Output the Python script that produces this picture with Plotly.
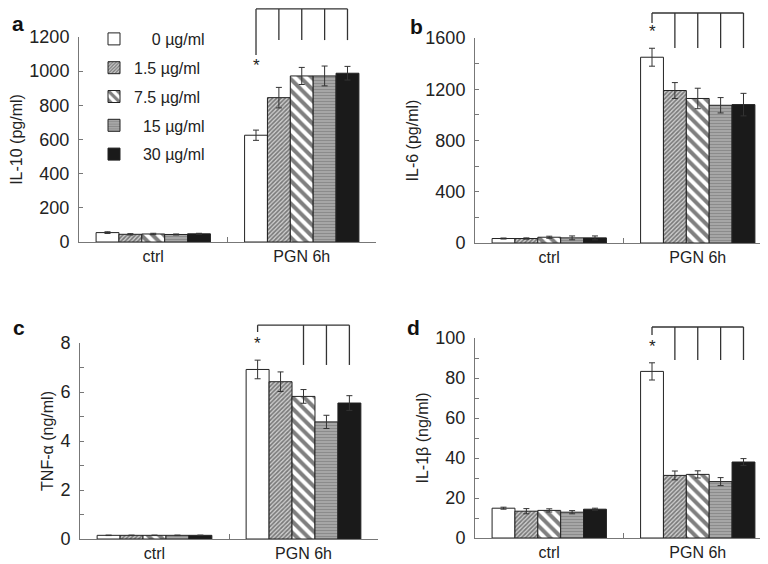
import plotly.graph_objects as go

categories = ["ctrl", "PGN 6h"]
doses = ["0 µg/ml", "1.5 µg/ml", "7.5 µg/ml", "15 µg/ml", "30 µg/ml"]
legend_names = ["\u2007\u2008 0 µg/ml", "1.5 µg/ml", "7.5 µg/ml", "\u2008 15 µg/ml", "\u2008 30 µg/ml"]

# IL-10 (pg/ml): [ctrl, PGN] per dose
il10_vals = [[55, 625], [45, 845], [47, 972], [44, 972], [48, 988]]
il10_err = [[5, 30], [4, 60], [4, 50], [3, 58], [3, 40]]
# IL-6 (pg/ml)
il6_vals = [[35, 1450], [35, 1190], [45, 1128], [40, 1075], [40, 1080]]
il6_err = [[4, 70], [5, 62], [8, 80], [15, 60], [15, 88]]
# TNF-a (ng/ml)
tnf_vals = [[0.15, 6.92], [0.15, 6.42], [0.15, 5.82], [0.15, 4.78], [0.15, 5.55]]
tnf_err = [[0.01, 0.38], [0.01, 0.4], [0.01, 0.28], [0.01, 0.27], [0.01, 0.3]]
# IL-1b (ng/ml)
il1b_vals = [[14.9, 83.3], [13.4, 31.3], [13.8, 31.8], [12.9, 28.2], [14.4, 38.0]]
il1b_err = [[0.5, 4.3], [1.3, 2.2], [0.8, 1.8], [0.8, 2.0], [0.5, 1.7]]

# which PGN bars are linked to the 0 µg/ml bar by the significance bracket
bracket_a = [1, 2, 3, 4]
bracket_b = [1, 2, 3, 4]
bracket_c = [2, 3, 4]
bracket_d = [1, 2, 3, 4]

W, H = 768, 564
FONT = "Liberation Sans, Arial, sans-serif"
INK = "#222222"
AX = "#777777"

styles = [
    dict(color="white"),
    dict(color="white", pattern=dict(shape="/", size=3, solidity=0.55, fgcolor="#222222", bgcolor="#d0d0d0")),
    dict(color="white", pattern=dict(shape="\\", size=8, solidity=0.5, fgcolor="#000000", bgcolor="white")),
    dict(color="#a0a0a0", pattern=dict(shape="-", size=3, solidity=0.35, fgcolor="#707070", bgcolor="#a6a6a6")),
    dict(color="#1a1a1a"),
]


def px_dom_x(x0, x1):
    return [x0 / W, x1 / W]


def px_dom_y(top, bottom):
    return [(H - bottom) / H, (H - top) / H]


panels = [
    dict(vals=il10_vals, err=il10_err, title="IL-10 (pg/ml)", rng=[0, 1200], dtick=200, minor=None,
         dx=px_dom_x(71, 368), dy=px_dom_y(29, 234), letter="a", lx=2, ly=2,
         bars=bracket_a, btop=1.137, bleft=0.912, bstar=0.86, bdrop=0.985),
    dict(vals=il6_vals, err=il6_err, title="IL-6 (pg/ml)", rng=[0, 1600], dtick=400, minor=200,
         dx=px_dom_x(467, 764), dy=px_dom_y(30, 235), letter="b", lx=400, ly=5,
         bars=bracket_b, btop=1.122, bleft=1.073, bstar=1.03, bdrop=0.951),
    dict(vals=tnf_vals, err=tnf_err, title="TNF-α (ng/ml)", rng=[0, 8], dtick=2, minor=1,
         dx=px_dom_x(72, 370), dy=px_dom_y(335, 531), letter="c", lx=3, ly=306,
         bars=bracket_c, btop=1.091, bleft=1.056, bstar=0.995, bdrop=0.888),
    dict(vals=il1b_vals, err=il1b_err, title="IL-1β (ng/ml)", rng=[0, 100], dtick=20, minor=10,
         dx=px_dom_x(467, 764), dy=px_dom_y(330, 530), letter="d", lx=397, ly=306,
         bars=bracket_d, btop=1.055, bleft=1.015, bstar=0.96, bdrop=0.89),
]

BARGAP = 0.23
n = len(doses)
bw = (1 - BARGAP) / n
offsets = [(-(n - 1) / 2 + i) * bw for i in range(n)]

fig = go.Figure()
shapes = []
annotations = []

for p_i, p in enumerate(panels):
    sfx = "" if p_i == 0 else str(p_i + 1)
    xa, ya = "x" + sfx, "y" + sfx
    for d_i in range(n):
        fig.add_trace(go.Bar(
            x=categories, y=p["vals"][d_i],
            name=legend_names[d_i], legendgroup=doses[d_i], showlegend=(p_i == 0),
            marker=dict(**styles[d_i], line=dict(color=INK, width=1)),
            error_y=dict(type="data", array=p["err"][d_i], visible=True,
                         color="#333333", thickness=1, width=3),
            xaxis=xa, yaxis=ya,
        ))
    lay_x = "xaxis" + sfx
    lay_y = "yaxis" + sfx
    fig.layout[lay_x] = dict(
        domain=p["dx"], anchor=ya, type="category", range=[-0.5, 1.5],
        showline=True, linecolor=AX, linewidth=1, ticks="inside", tickson="boundaries",
        ticklen=5, tickcolor=AX, tickfont=dict(size=16, color=INK, family=FONT),
        ticklabelstandoff=0, showgrid=False, zeroline=False,
    )
    ydict = dict(
        domain=p["dy"], anchor=xa, range=p["rng"], dtick=p["dtick"], tick0=0,
        showline=True, linecolor=AX, linewidth=1, ticks="inside", ticklen=4, tickcolor=AX,
        tickfont=dict(size=18, color=INK, family=FONT), ticklabelstandoff=5,
        showgrid=False, zeroline=False,
        title=dict(text=p["title"], font=dict(size=16, color=INK, family=FONT), standoff=2),
    )
    if p["minor"]:
        ydict["minor"] = dict(dtick=p["minor"], ticks="inside", ticklen=4, tickcolor=AX, showgrid=False)
    fig.layout[lay_y] = ydict

    # significance bracket over PGN group
    base = 1
    x_first = base + offsets[0]
    x_last = base + offsets[p["bars"][-1]]
    yref = ya + " domain"
    line = dict(color="#333333", width=1.3)
    shapes.append(dict(type="line", xref=xa, yref=yref, x0=x_first, x1=x_last,
                       y0=p["btop"], y1=p["btop"], line=line))
    shapes.append(dict(type="line", xref=xa, yref=yref, x0=x_first, x1=x_first,
                       y0=p["btop"], y1=p["bleft"], line=line))
    for b in p["bars"]:
        xb = base + offsets[b]
        shapes.append(dict(type="line", xref=xa, yref=yref, x0=xb, x1=xb,
                           y0=p["btop"], y1=p["bdrop"], line=line))
    annotations.append(dict(text="*", xref=xa, yref=yref, x=x_first, y=p["bstar"],
                            showarrow=False, xanchor="center", yanchor="middle",
                            font=dict(size=17, color=INK, family=FONT)))
    annotations.append(dict(text="<b>%s</b>" % p["letter"], xref="paper", yref="paper",
                            x=p["lx"] / W, y=1 - p["ly"] / H, showarrow=False,
                            xanchor="left", yanchor="top",
                            font=dict(size=21, color="#111111", family=FONT)))

fig.update_layout(
    width=W, height=H, margin=dict(l=0, r=0, t=0, b=0, autoexpand=False),
    paper_bgcolor="white", plot_bgcolor="white",
    barmode="group", bargap=BARGAP, bargroupgap=0,
    font=dict(family=FONT, color=INK),
    showlegend=True,
    legend=dict(x=86 / W, y=1 - 14 / H, xanchor="left", yanchor="top",
                font=dict(size=16, color=INK, family=FONT),
                traceorder="grouped", tracegroupgap=5, bgcolor="rgba(0,0,0,0)",
                itemclick=False, itemdoubleclick=False),
    shapes=shapes, annotations=annotations,
)

fig.write_html("out.html")
